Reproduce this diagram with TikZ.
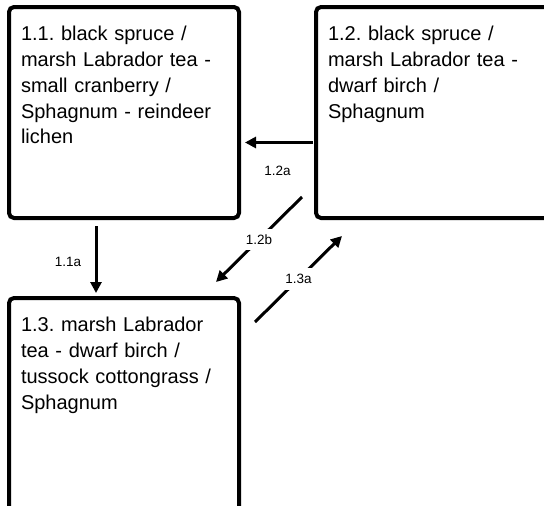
\documentclass[tikz,border=0pt]{standalone}
\usepackage{fontspec}
\setmainfont{Liberation Sans}
\usetikzlibrary{arrows.meta,positioning}
\frenchspacing

\begin{document}
\begin{tikzpicture}[
  x=1pt,y=1pt,
  box/.style={draw,line width=4pt,rounded corners=5pt,outer sep=0pt,inner xsep=12pt,inner ysep=19pt,
    text width=206pt,align=left,text height=14pt,text depth=159pt,font=\fontsize{20pt}{26pt}\selectfont},
  arr/.style={-{Triangle[length=11pt,width=11pt]},line width=3pt},
  lab/.style={font=\fontsize{13.5pt}{16pt}\selectfont,fill=white,inner sep=6pt}]
\clip (0,0) rectangle (544,-506);
\node[box,anchor=north west] (s11) at (9,-7) {1.1. black spruce /\\marsh Labrador tea -\\small cranberry /\\Sphagnum - reindeer\\lichen};
\node[box,text width=216pt,right=77pt of s11] (s12) {1.2. black spruce /\\marsh Labrador tea -\\dwarf birch /\\Sphagnum};
\node[box,text depth=190pt,below=80pt of s11] (s13) {1.3. marsh Labrador\\tea - dwarf birch /\\tussock cottongrass /\\Sphagnum};
\draw[arr,shorten <=8pt,shorten >=5pt] ([xshift=-28pt]s11.south) -- node[lab,xshift=-28pt,yshift=-4pt]{1.1a} ([xshift=-28pt]s13.north);
\draw[arr,shorten <=3pt,shorten >=6pt] ([yshift=-30pt]s12.west) -- node[lab,yshift=-28pt]{1.2a} ([yshift=-30pt]s11.east);
\draw[arr] ([shift={(-14pt,21pt)}]s12.south west) -- node[lab]{1.2b} ([shift={(-23pt,16pt)}]s13.north east);
\draw[arr] ([shift={(16pt,-24pt)}]s13.north east) -- node[lab]{1.3a} ([shift={(26pt,-18pt)}]s12.south west);
\end{tikzpicture}
\end{document}
